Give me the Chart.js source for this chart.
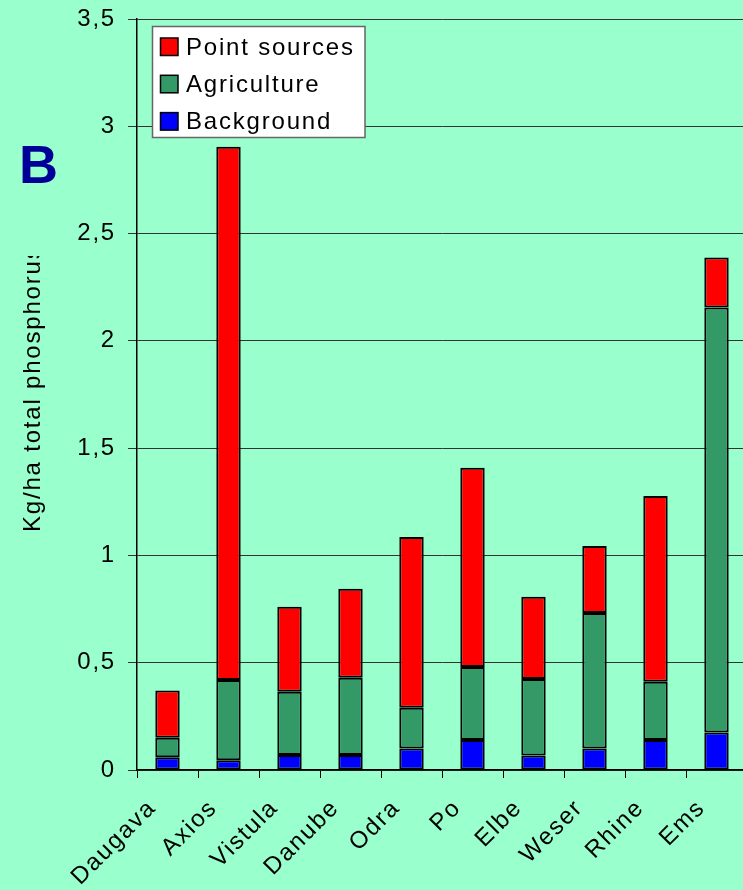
<!DOCTYPE html>
<html>
<head>
<meta charset="utf-8">
<script src="https://cdn.jsdelivr.net/npm/chart.js@4.4.1/dist/chart.umd.min.js"></script>
<style>
  html, body { margin: 0; padding: 0; background: #99FFCC; overflow: hidden; }
  #wrap { width: 747px; height: 890px; }
</style>
</head>
<body>
<div id="wrap"><canvas id="chart" width="747" height="890"></canvas></div>
<script>
const rivers = ['Daugava', 'Axios', 'Vistula', 'Danube', 'Odra', 'Po', 'Elbe', 'Weser', 'Rhine', 'Ems'];

// kg/ha total phosphorus
const background_values = [0.06, 0.045, 0.07, 0.07, 0.10, 0.14, 0.067, 0.10, 0.14, 0.175];
const agriculture_values = [0.09, 0.375, 0.295, 0.36, 0.19, 0.34, 0.357, 0.632, 0.271, 1.98];
const point_values = [0.22, 2.485, 0.396, 0.415, 0.796, 0.929, 0.384, 0.312, 0.866, 0.234];

const y_ticks = [0, 0.5, 1, 1.5, 2, 2.5, 3, 3.5];

const series_colours = { point: '#FF0000', agriculture: '#339966', background: '#0000FF' };
const label_font = '24px "Liberation Sans", Arial, sans-serif';

// the source picture has rather wide text, so spread the letters a bit
const spacingPlugin = {
    id: 'spacing',
    beforeUpdate(chart) { chart.ctx.letterSpacing = '1.8px'; },
    beforeDraw(chart) { chart.ctx.letterSpacing = '1.8px'; }
};

const extrasPlugin = {
    id: 'extras',
    afterDraw(chart) {
        const ctx = chart.ctx;

        // big "B" panel letter
        ctx.save();
        ctx.fillStyle = '#000099';
        ctx.font = 'bold 54px "Liberation Sans", Arial, sans-serif';
        ctx.textBaseline = 'alphabetic';
        ctx.textAlign = 'left';
        ctx.fillText('B', 19, 182.5);
        ctx.restore();

        // y axis title, cut off at the top like in the original
        ctx.save();
        ctx.beginPath();
        ctx.rect(0, 256, 130, 400);
        ctx.clip();
        ctx.translate(40, 532);
        ctx.rotate(-Math.PI / 2);
        ctx.font = label_font;
        ctx.fillStyle = '#000';
        ctx.textAlign = 'left';
        ctx.textBaseline = 'alphabetic';
        ctx.fillText('Kg/ha total phosphorus', 0, 0);
        ctx.restore();

        // legend box, top series first
        const items = chart.data.datasets.slice().reverse();
        ctx.save();
        ctx.fillStyle = '#FFFFFF';
        ctx.strokeStyle = '#666666';
        ctx.lineWidth = 1.5;
        ctx.fillRect(152.5, 26.5, 212.5, 111);
        ctx.strokeRect(152.5, 26.5, 212.5, 111);
        ctx.font = label_font;
        ctx.textBaseline = 'middle';
        ctx.textAlign = 'left';
        items.forEach((ds, i) => {
            const top = 38 + i * 37.3;
            ctx.fillStyle = ds.backgroundColor;
            ctx.fillRect(160.5, top, 17.5, 17.5);
            ctx.strokeStyle = '#000';
            ctx.lineWidth = 1.5;
            ctx.strokeRect(160.5, top, 17.5, 17.5);
            ctx.fillStyle = '#000';
            ctx.fillText(ds.label, 186, top + 10);
        });
        ctx.restore();
    }
};

const datasets = [
    { label: 'Background', data: background_values, backgroundColor: series_colours.background },
    { label: 'Agriculture', data: agriculture_values, backgroundColor: series_colours.agriculture },
    { label: 'Point sources', data: point_values, backgroundColor: series_colours.point }
].map(d => Object.assign(d, {
    borderColor: '#000',
    borderWidth: 2,
    borderSkipped: false,
    barPercentage: 0.4,
    categoryPercentage: 1.0
}));

const config = {
    type: 'bar',
    data: { labels: rivers, datasets: datasets },
    options: {
        responsive: false,
        animation: false,
        layout: { padding: { top: 19, left: 0, right: 0, bottom: 0 } },
        plugins: {
            legend: { display: false },
            tooltip: { enabled: false }
        },
        scales: {
            x: {
                stacked: true,
                afterFit(scale) {
                    scale.height = 120;
                    scale.paddingLeft = 0;
                    scale.paddingRight = 0;   // plot runs off the right edge
                },
                grid: {
                    offset: true,
                    drawOnChartArea: false,
                    drawTicks: true,
                    tickLength: 8,
                    color: '#000'
                },
                border: { display: true, color: '#000', width: 1.5 },
                ticks: {
                    color: '#000',
                    font: { family: '"Liberation Sans", Arial, sans-serif', size: 24 },
                    minRotation: 45,
                    maxRotation: 45,
                    padding: 16,
                    labelOffset: -15,
                    autoSkip: false
                }
            },
            y: {
                stacked: true,
                min: 0,
                max: 3.5,
                afterFit(scale) {
                    scale.width = 137;
                    scale.paddingTop = 0;     // top gridline sits at 19px
                    scale.paddingBottom = 0;
                },
                afterBuildTicks(scale) { scale.ticks = y_ticks.map(v => ({ value: v })); },
                grid: {
                    color: '#333',
                    lineWidth: 1,
                    drawTicks: true,
                    tickLength: 9
                },
                border: { display: true, color: '#000', width: 1.5 },
                ticks: {
                    color: '#000',
                    font: { family: '"Liberation Sans", Arial, sans-serif', size: 24 },
                    padding: 12,
                    callback: v => String(v).replace('.', ',')
                }
            }
        }
    },
    plugins: [spacingPlugin, extrasPlugin]
};

const chart = new Chart(document.getElementById('chart').getContext('2d'), config);
</script>
</body>
</html>
